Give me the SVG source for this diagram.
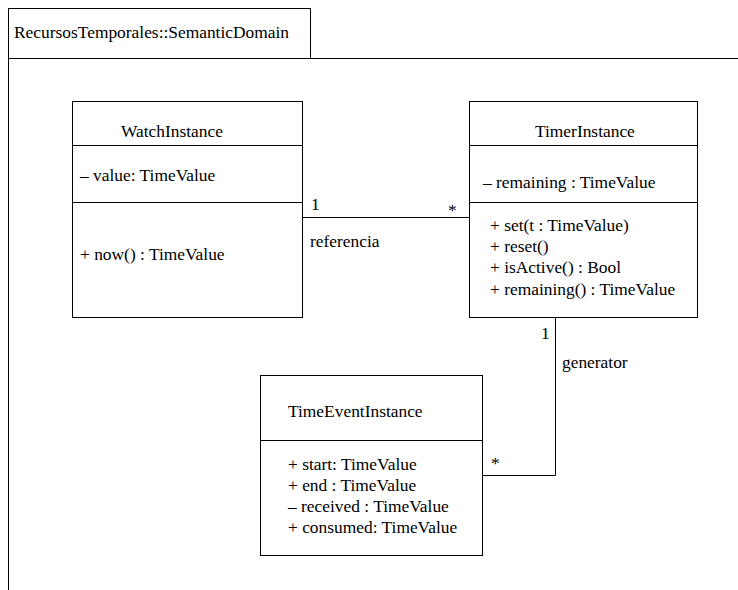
<svg xmlns="http://www.w3.org/2000/svg" width="738" height="590" viewBox="0 0 738 590" font-family="'Liberation Serif', 'Times New Roman', Times, serif" font-size="17.4">
<style>
.b{fill:#fff;stroke:#000;stroke-width:1}
.l{fill:none;stroke:#000;stroke-width:1}
</style>
<rect width="738" height="590" fill="#fff"/>
<g id="package">
<rect class="b" x="8.5" y="8.5" width="302" height="50"/>
<path class="l" d="M8.5 58.5H738M8.5 58.5V590"/>
<text x="14" y="38">RecursosTemporales::SemanticDomain</text>
</g>
<g id="WatchInstance">
<rect class="b" x="72.5" y="101.5" width="230" height="216"/>
<path class="l" d="M72.5 145.5H302.5M72.5 202.5H302.5"/>
<text x="121" y="137">WatchInstance</text>
<text x="80" y="181">– value: TimeValue</text>
<text x="80" y="260">+ now() : TimeValue</text>
</g>
<g id="TimerInstance">
<rect class="b" x="469.5" y="101.5" width="228" height="216"/>
<path class="l" d="M469.5 145.5H697.5M469.5 202.5H697.5"/>
<text x="535" y="137">TimerInstance</text>
<text x="483" y="188">– remaining : TimeValue</text>
<text x="490" y="231">+ set(t : TimeValue)</text>
<text x="490" y="252">+ reset()</text>
<text x="490" y="273">+ isActive() : Bool</text>
<text x="490" y="295">+ remaining() : TimeValue</text>
</g>
<g id="TimeEventInstance">
<rect class="b" x="260.5" y="375.5" width="222" height="180"/>
<path class="l" d="M260.5 440.5H482.5"/>
<text x="288" y="417">TimeEventInstance</text>
<text x="288" y="470">+ start: TimeValue</text>
<text x="288" y="491">+ end : TimeValue</text>
<text x="288" y="512">– received : TimeValue</text>
<text x="288" y="533">+ consumed: TimeValue</text>
</g>
<g id="connectors">
<path class="l" d="M302.5 217.5H469.5"/>
<text x="311" y="210">1</text>
<text x="448" y="216">*</text>
<text x="310" y="247">referencia</text>
<path class="l" d="M555.5 317.5V475.5H482.5"/>
<text x="541" y="339">1</text>
<text x="562" y="368">generator</text>
<text x="491" y="469">*</text>
</g>
</svg>
